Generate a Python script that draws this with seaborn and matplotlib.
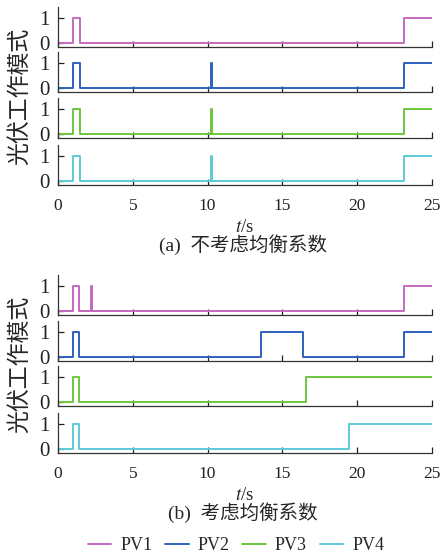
import pandas as pd
import seaborn as sns
import matplotlib.pyplot as plt

# switching instants (s) and modes after each instant, per PV unit
# (a) without balance coefficient
a_pv1_t = [0, 1.0, 1.5, 23.1, 25]
a_pv1_v = [0, 1, 0, 1, 1]
a_pv2_t = [0, 1.0, 1.5, 10.2, 10.3, 23.1, 25]
a_pv2_v = [0, 1, 0, 1, 0, 1, 1]
a_pv3_t = [0, 1.0, 1.5, 10.2, 10.3, 23.1, 25]
a_pv3_v = [0, 1, 0, 1, 0, 1, 1]
a_pv4_t = [0, 1.0, 1.5, 10.2, 10.3, 23.1, 25]
a_pv4_v = [0, 1, 0, 1, 0, 1, 1]
# (b) with balance coefficient
b_pv1_t = [0, 1.0, 1.4, 2.2, 2.3, 23.1, 25]
b_pv1_v = [0, 1, 0, 1, 0, 1, 1]
b_pv2_t = [0, 1.0, 1.4, 13.6, 16.4, 23.1, 25]
b_pv2_v = [0, 1, 0, 1, 0, 1, 1]
b_pv3_t = [0, 1.0, 1.4, 16.55, 25]
b_pv3_v = [0, 1, 0, 1, 1]
b_pv4_t = [0, 1.0, 1.4, 19.45, 25]
b_pv4_v = [0, 1, 0, 1, 1]

names = ["PV1", "PV2", "PV3", "PV4"]
colors = ["#c46ac0", "#2f5fbf", "#6cc63c", "#5ccbd9"]
xticks = [0, 5, 10, 15, 20, 25]
captions = ["(a)  不考虑均衡系数", "(b)  考虑均衡系数"]
ylabel = "光伏工作模式"

panels = [
    [(a_pv1_t, a_pv1_v), (a_pv2_t, a_pv2_v), (a_pv3_t, a_pv3_v), (a_pv4_t, a_pv4_v)],
    [(b_pv1_t, b_pv1_v), (b_pv2_t, b_pv2_v), (b_pv3_t, b_pv3_v), (b_pv4_t, b_pv4_v)],
]

sns.set_style("ticks")
plt.rcParams['font.family'] = ['Liberation Serif', 'Noto Sans CJK SC']
plt.rcParams['mathtext.fontset'] = 'stix'

W, H = 444, 557
fig = plt.figure(figsize=(W / 100, H / 100), dpi=100)

row_bottoms = [[47, 92, 138, 185], [315, 361, 406, 453]]
left, right = 58, 432
ax_h = 40
handles = []
for p, rows in enumerate(panels):
    for i, (t, v) in enumerate(rows):
        b = row_bottoms[p][i]
        ax = fig.add_axes([left / W, (H - b) / H, (right - left) / W, ax_h / H])
        df = pd.DataFrame({"t": t, "mode": v})
        sns.lineplot(data=df, x="t", y="mode", ax=ax, color=colors[i],
                     drawstyle="steps-post", linewidth=1.4, label=names[i],
                     legend=False)
        if p == 0:
            handles.append(ax.get_lines()[0])
        ax.set_xlim(0, 25)
        ax.set_ylim(-0.16, 1.45)
        ax.set_xticks(xticks)
        ax.set_yticks([0, 1])
        ax.set_yticklabels(["0", "1"], fontsize=15)
        ax.tick_params(direction="in", length=4, width=0.9, colors="#222222")
        ax.tick_params(axis="x", labelsize=12.5, pad=9)
        ax.tick_params(axis="y", pad=6)
        ax.set_xlabel("")
        ax.set_ylabel("")
        sns.despine(ax=ax)
        for s in ["left", "bottom"]:
            ax.spines[s].set_linewidth(0.9)
            ax.spines[s].set_color("#333333")
        ax.patch.set_alpha(0)
        if i < 3:
            ax.set_xticklabels([])
    # axis label, caption and y label for the panel
    base = row_bottoms[p][3]
    fig.text((left + right) / 2 / W, 1 - (base + 42) / H, r"$t$/s",
             ha="center", va="center", fontsize=13.5)
    fig.text(243 / W, 1 - (base + 60) / H, captions[p],
             ha="center", va="center", fontsize=14)
    mid = (row_bottoms[p][0] - ax_h + base) / 2
    fig.text(20 / W, 1 - mid / H, ylabel, rotation=90, ha="center",
             va="center", fontsize=16.5)

fig.legend(handles=handles, labels=names, loc="center",
           bbox_to_anchor=(236 / W, 1 - 546 / H), ncol=4, frameon=False,
           fontsize=13, handlelength=1.3, handletextpad=0.5, columnspacing=0.7)

fig.savefig("out.png", dpi=100)
